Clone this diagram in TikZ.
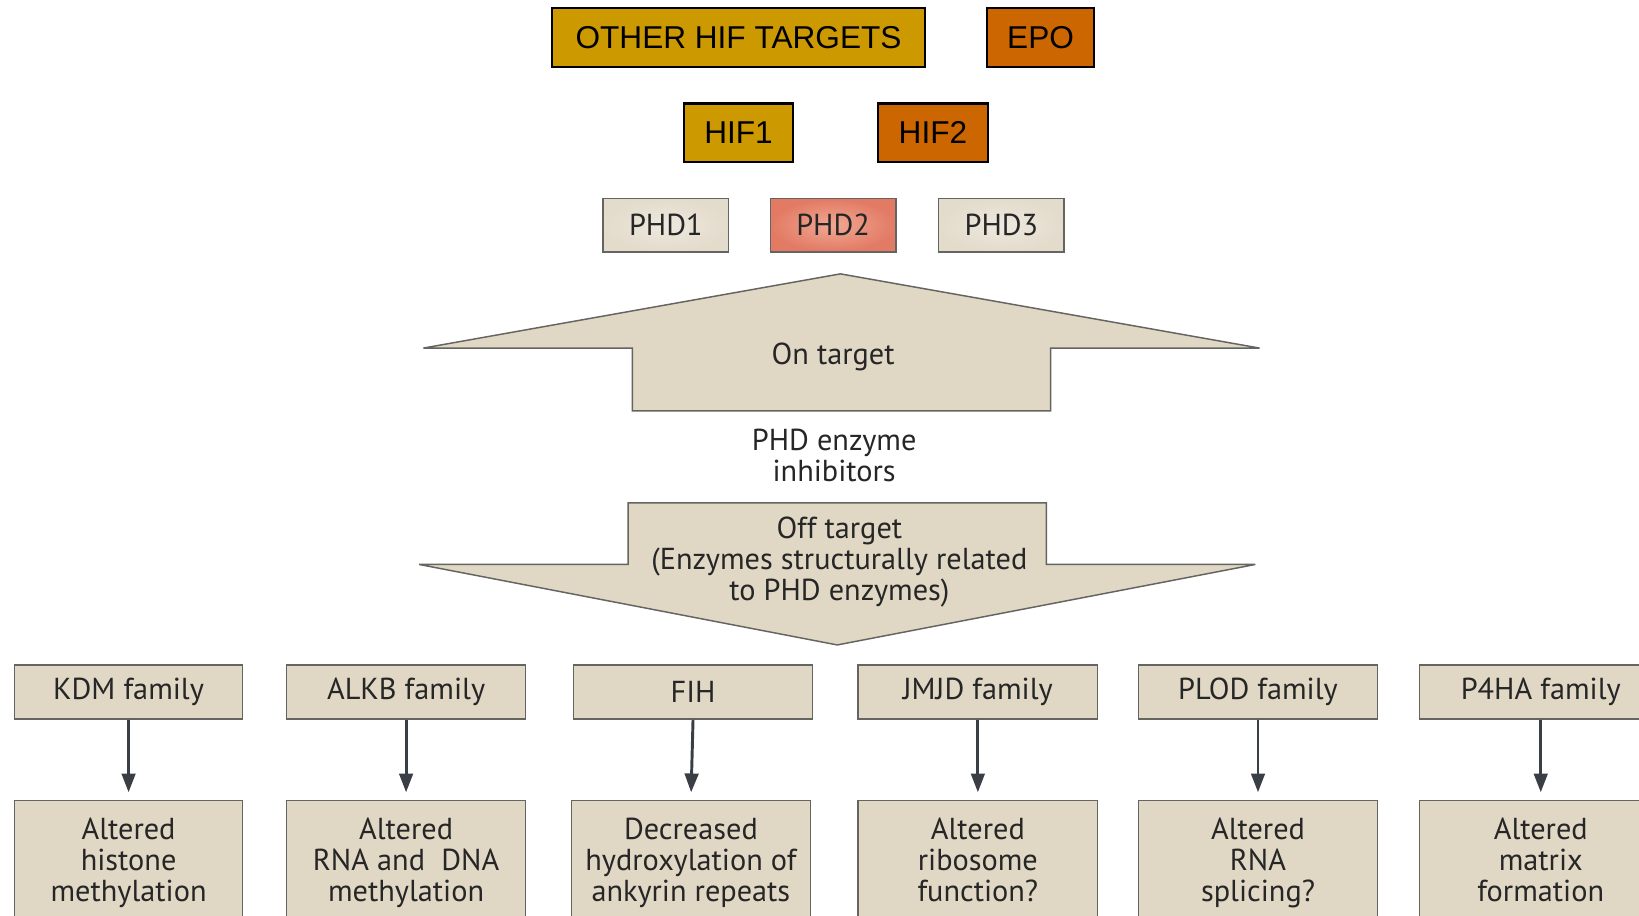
\documentclass[tikz,border=0pt]{standalone}
\usepackage{fontspec}
\setmainfont{PT Sans}
\newfontfamily\arialfont{Liberation Sans}
\usepackage{tikz}
\usetikzlibrary{arrows.meta,positioning}
\definecolor{ink}{RGB}{38,38,38}
\definecolor{hifgold}{RGB}{204,153,0}
\definecolor{hiforange}{RGB}{204,102,0}
\definecolor{sand}{RGB}{224,215,197}
\definecolor{sandlight}{RGB}{238,233,224}
\definecolor{salmon}{RGB}{226,122,100}
\definecolor{salmonlight}{RGB}{240,168,148}
\definecolor{edgegray}{RGB}{100,100,96}
\definecolor{arrowgray}{RGB}{58,63,70}
\tikzset{
  hifbox/.style={draw=black,line width=1.1pt,minimum height=1.12cm,inner sep=0pt,
    font=\arialfont\fontsize{17.2}{20}\selectfont,text=black},
  phdbox/.style={draw=edgegray,line width=0.8pt,minimum width=2.4cm,minimum height=1.02cm,
    font=\fontsize{16.5}{16.8}\selectfont,text=ink},
  family/.style={draw=edgegray,line width=0.8pt,fill=sand,minimum width=4.58cm,
    minimum height=1.04cm,font=\fontsize{16.5}{16.8}\selectfont,text=ink},
  outcome/.style={family,minimum height=2.46cm,align=center,anchor=north,
    execute at begin node=\strut,execute at end node=\strut},
  bigarrow/.style={draw=edgegray,line width=0.8pt,fill=sand},
  effect/.style={line width=1.6pt,arrowgray,-{Triangle[length=3.6mm,width=2.6mm]},shorten >=1.4mm},
  label/.style={font=\fontsize{16.5}{16.8}\selectfont,text=ink,align=center}
}
\begin{document}
\begin{tikzpicture}[x=0.02cm,y=-0.02cm]
  \useasboundingbox (0,0) rectangle (1568,876);
  \clip (0,0) rectangle (1568,876);

  % HIF side
  \node[hifbox,fill=hifgold,minimum width=7.14cm] (others) at (706.5,36) {OTHER HIF TARGETS};
  \node[hifbox,fill=hiforange,minimum width=2.06cm] (epo) at (995.5,36) {EPO};
  \node[hifbox,fill=hifgold,minimum width=2.1cm] (hif1) at (706.5,127) {HIF1};
  \node[hifbox,fill=hiforange,minimum width=2.1cm] (hif2) at (892.5,127) {HIF2};

  % the three PHD enzymes
  \node[phdbox,inner color=sandlight,outer color=sand!90] (phd1) at (637,215.5) {PHD1};
  \node[phdbox,inner color=salmonlight,outer color=salmon] (phd2) at (797,215.5) {PHD2};
  \node[phdbox,inner color=sandlight,outer color=sand!90] (phd3) at (958,215.5) {PHD3};

  % on / off target block arrows
  \draw[bigarrow] (405,333) -- (804,262) -- (1205,333) -- (1005,333) -- (1005,393)
    -- (605,393) -- (605,333) -- cycle;
  \node[label] (ontarget) at (797,341) {On target};
  \node[label] (inhib) at (798,436) {PHD enzyme\\inhibitors};
  \draw[bigarrow] (601,481) -- (1001,481) -- (1001,540) -- (1201,540) -- (801,617)
    -- (401,540) -- (601,540) -- cycle;
  \node[label] (offtarget) at (803,538) {Off target\\(Enzymes structurally related\\to PHD enzymes)};

  % related enzyme families
  \node[family,minimum width=4.36cm] (kdm) at (123,662) {KDM family};
  \node[family] (alkb) at (388.5,662) {ALKB family};
  \node[family] (fih) at (663,662) {FIH};
  \node[family] (jmjd) at (935.5,662) {JMJD family};
  \node[family] (plod) at (1203.5,662) {PLOD family};
  \node[family,minimum width=4.64cm] (p4ha) at (1474,662) {P4HA family};

  \node[outcome,minimum width=4.36cm] (kdm-out) at (123,765) {Altered\\histone\\methylation};
  \node[outcome] (alkb-out) at (388.5,765) {Altered\\RNA and~~DNA\\methylation};
  \node[outcome] (fih-out) at (661,765) {Decreased\\hydroxylation of\\ankyrin repeats};
  \node[outcome] (jmjd-out) at (935.5,765) {Altered\\ribosome\\function?};
  \node[outcome] (plod-out) at (1203.5,765) {Altered\\RNA\\splicing?};
  \node[outcome,minimum width=4.64cm] (p4ha-out) at (1474,765) {Altered\\matrix\\formation};

  \foreach \f in {kdm,alkb,fih,jmjd,plod,p4ha}
    \draw[effect] (\f.south) -- (\f-out.north);
\end{tikzpicture}
\end{document}
